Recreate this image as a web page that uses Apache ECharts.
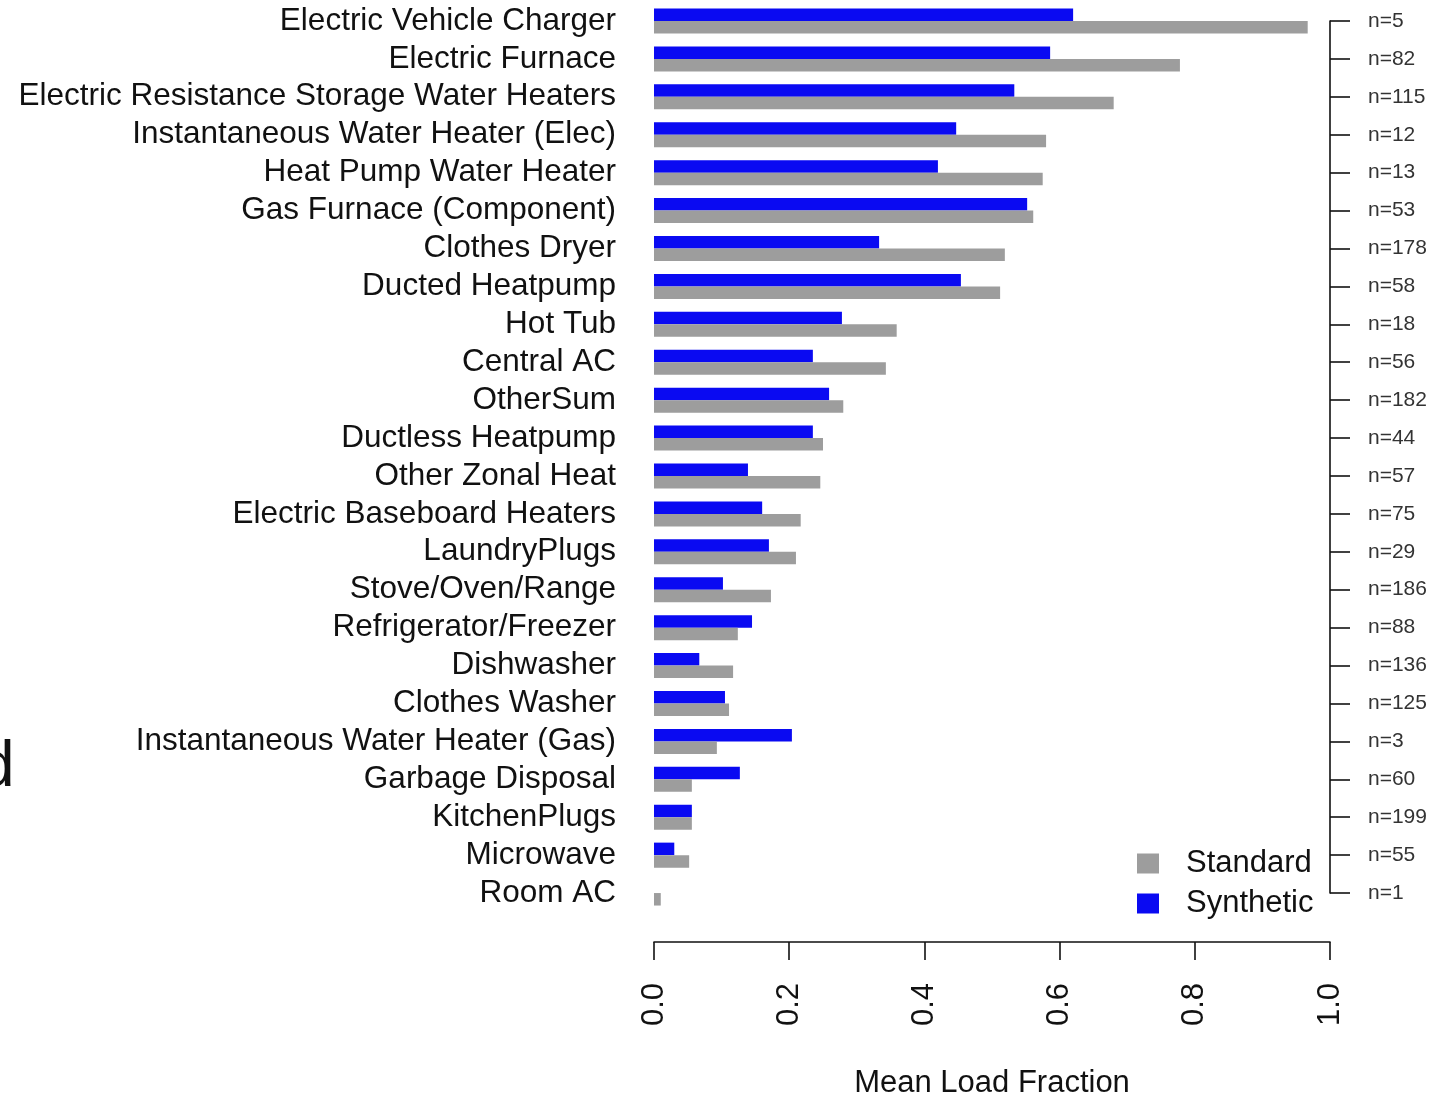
<!DOCTYPE html>
<html>
<head>
<meta charset="utf-8">
<title>Mean Load Fraction by End Use</title>
<script src="https://cdn.jsdelivr.net/npm/echarts@6/dist/echarts.min.js"></script>
<style>
  html, body { margin: 0; padding: 0; background: #ffffff; }
  #chart { width: 1453px; height: 1098px; }
</style>
</head>
<body>
<div id="chart"></div>
<script>
// End-use categories, top to bottom
const categories = [
  'Electric Vehicle Charger', 'Electric Furnace', 'Electric Resistance Storage Water Heaters',
  'Instantaneous Water Heater (Elec)', 'Heat Pump Water Heater', 'Gas Furnace (Component)',
  'Clothes Dryer', 'Ducted Heatpump', 'Hot Tub', 'Central AC', 'OtherSum', 'Ductless Heatpump',
  'Other Zonal Heat', 'Electric Baseboard Heaters', 'LaundryPlugs', 'Stove/Oven/Range',
  'Refrigerator/Freezer', 'Dishwasher', 'Clothes Washer', 'Instantaneous Water Heater (Gas)',
  'Garbage Disposal', 'KitchenPlugs', 'Microwave', 'Room AC'
];

// Mean load fraction, synthetic profiles
const synthetic = [
  0.620, 0.586, 0.533, 0.447, 0.420, 0.552, 0.333, 0.454, 0.278, 0.235, 0.259, 0.235,
  0.139, 0.160, 0.170, 0.102, 0.145, 0.067, 0.105, 0.204, 0.127, 0.056, 0.030, 0
];

// Mean load fraction, standard profiles
const standard = [
  0.967, 0.778, 0.680, 0.580, 0.575, 0.561, 0.519, 0.512, 0.359, 0.343, 0.280, 0.250,
  0.246, 0.217, 0.210, 0.173, 0.124, 0.117, 0.111, 0.093, 0.056, 0.056, 0.052, 0.010
];

// Sample counts shown on the right-hand axis
const sampleCounts = [
  'n=5', 'n=82', 'n=115', 'n=12', 'n=13', 'n=53', 'n=178', 'n=58', 'n=18', 'n=56', 'n=182', 'n=44',
  'n=57', 'n=75', 'n=29', 'n=186', 'n=88', 'n=136', 'n=125', 'n=3', 'n=60', 'n=199', 'n=55', 'n=1'
];

const xTicks = { min: 0, max: 1, interval: 0.2 };

const FONT = '"Liberation Sans", Arial, Helvetica, sans-serif';
const BLUE = '#0a0af2';
const GREY = '#9d9d9d';
const INK = '#111111';

const chart = echarts.init(document.getElementById('chart'), null, { renderer: 'canvas' });

chart.setOption({
  backgroundColor: '#ffffff',
  animation: false,
  textStyle: { fontFamily: FONT },
  grid: [
    { left: 654, right: 123, top: 2, height: 910, containLabel: false, outerBoundsMode: 'none' },
    { left: 654, right: 123, top: 21, height: 872, containLabel: false, outerBoundsMode: 'none' }
  ],
  xAxis: [
    {
      type: 'value', gridIndex: 0,
      min: xTicks.min, max: xTicks.max, interval: xTicks.interval,
      position: 'bottom', offset: 30,
      axisLine: { show: true, onZero: false, lineStyle: { color: INK, width: 1.6 } },
      axisTick: { show: true, inside: false, length: 18, lineStyle: { color: INK, width: 1.6 } },
      splitLine: { show: false },
      axisLabel: {
        rotate: 90, margin: 41, fontSize: 31, color: INK, fontFamily: FONT,
        formatter: v => v.toFixed(1)
      },
      name: 'Mean Load Fraction', nameLocation: 'middle', nameGap: 141,
      nameTextStyle: { fontSize: 31, color: INK, fontFamily: FONT, verticalAlign: 'middle' }
    },
    {
      type: 'value', gridIndex: 1, min: 0, max: 1, show: false
    }
  ],
  yAxis: [
    {
      type: 'category', gridIndex: 0, data: categories, inverse: true,
      axisLine: { show: false }, axisTick: { show: false }, splitLine: { show: false },
      axisLabel: { interval: 0, margin: 38, fontSize: 31.5, color: INK, fontFamily: FONT }
    },
    {
      type: 'category', gridIndex: 1, data: sampleCounts, inverse: true,
      position: 'right', boundaryGap: false,
      axisLine: { show: true, onZero: false, lineStyle: { color: INK, width: 1.6 } },
      axisTick: { show: true, inside: false, interval: 0, length: 20, lineStyle: { color: INK, width: 1.6 } },
      splitLine: { show: false },
      axisLabel: { interval: 0, margin: 38, fontSize: 21, color: '#333333', fontFamily: FONT, align: 'left' }
    }
  ],
  legend: {
    orient: 'vertical', left: 1132, top: 843,
    data: ['Standard', 'Synthetic'],
    icon: 'rect', itemWidth: 22, itemHeight: 20, itemGap: 9,
    textStyle: { fontSize: 31, color: INK, fontFamily: FONT, padding: [0, 0, 0, 22] }
  },
  series: [
    {
      name: 'Synthetic', type: 'bar', xAxisIndex: 0, yAxisIndex: 0,
      data: synthetic, barWidth: 12.5, barGap: '0%', barCategoryGap: '34%',
      itemStyle: { color: BLUE }
    },
    {
      name: 'Standard', type: 'bar', xAxisIndex: 0, yAxisIndex: 0,
      data: standard, barWidth: 12.5, barGap: '0%', barCategoryGap: '34%',
      itemStyle: { color: GREY }
    }
  ],
  graphic: [
    {
      type: 'text', left: -21, top: 736, silent: true,
      style: { text: 'd', fontSize: 64, fill: INK, fontFamily: FONT }
    }
  ]
});
</script>
</body>
</html>
